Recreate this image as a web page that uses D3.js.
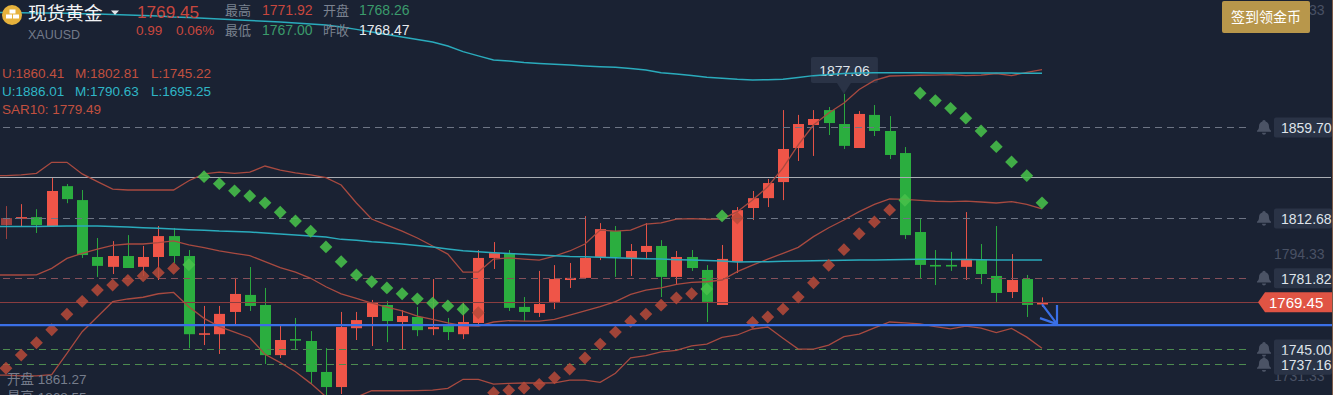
<!DOCTYPE html>
<html><head><meta charset="utf-8">
<script src="https://cdn.jsdelivr.net/npm/d3@7/dist/d3.min.js"></script>
<style>
html,body{margin:0;padding:0;background:#1a2233;overflow:hidden}
svg{display:block}
text{font-family:"Liberation Sans","Noto Sans CJK SC",sans-serif}
</style></head><body><svg id="c" width="1333" height="395"></svg>
<script>
const opens=[1809.3,1812.9,1813.4,1808.8,1829.4,1822.2,1792.8,1787.7,1793.3,1787.7,1792.8,1803.6,1793.3,1752.9,1752.9,1764.4,1773.2,1768.0,1742.1,1750.4,1749.4,1733.4,1725.6,1756.0,1761.8,1768.0,1759.2,1761.8,1755.5,1757.1,1752.9,1758.7,1792.3,1794.8,1767.0,1763.9,1769.6,1780.9,1782.0,1792.8,1806.2,1792.3,1795.4,1798.5,1782.5,1792.8,1786.1,1768.0,1790.2,1818.1,1823.2,1831.5,1849.1,1861.0,1868.7,1861.5,1849.1,1866.2,1857.9,1846.5,1805.7,1788.7,1788.7,1787.7,1791.2,1783.0,1774.7,1781.4,1768.26];
const closes=[1812.9,1813.4,1809.3,1826.9,1822.7,1793.8,1788.2,1793.3,1787.1,1792.8,1803.6,1793.3,1752.9,1753.4,1763.4,1773.7,1767.5,1742.1,1749.9,1749.9,1733.4,1725.6,1756.6,1760.2,1769.0,1759.7,1762.3,1755.0,1756.6,1754.0,1759.2,1792.3,1794.8,1766.5,1764.4,1768.5,1781.4,1782.0,1792.3,1807.2,1792.8,1795.9,1798.5,1782.5,1792.8,1787.1,1769.6,1791.8,1817.0,1823.2,1831.0,1848.6,1861.5,1864.1,1862.0,1850.2,1866.7,1857.9,1845.5,1804.1,1788.7,1788.2,1788.2,1791.8,1784.0,1774.2,1780.9,1768.0,1769.45];
const highs=[1819.1,1820.1,1817.5,1833.6,1830.5,1827.4,1802.6,1801.0,1804.1,1798.5,1808.8,1807.8,1796.4,1767.5,1767.5,1782.0,1787.6,1776.8,1757.6,1761.3,1754.5,1745.7,1764.4,1764.4,1770.6,1770.1,1765.4,1767.0,1781.4,1761.3,1769.6,1796.4,1800.5,1796.4,1772.1,1785.6,1788.6,1789.7,1813.9,1810.3,1808.8,1799.5,1810.3,1801.5,1795.9,1796.4,1788.6,1799.0,1818.6,1826.9,1833.1,1868.7,1866.2,1868.7,1870.3,1877.06,1868.2,1871.3,1865.6,1849.6,1812.4,1796.4,1795.4,1816.0,1799.5,1808.8,1794.3,1783.5,1771.92];
const lows=[1802.1,1808.3,1805.2,1808.3,1820.6,1792.3,1782.5,1784.0,1787.1,1783.0,1780.9,1789.7,1745.7,1747.3,1742.7,1758.1,1764.9,1737.5,1740.6,1744.7,1727.2,1721.5,1722.0,1749.9,1746.8,1748.8,1745.2,1751.9,1752.4,1749.9,1750.4,1757.6,1786.6,1764.9,1759.7,1761.8,1765.9,1776.8,1781.4,1791.2,1782.5,1783.0,1791.8,1772.1,1778.8,1785.6,1759.2,1768.0,1784.5,1811.9,1818.6,1822.2,1842.4,1845.0,1855.8,1848.6,1849.1,1855.3,1843.4,1802.1,1781.4,1778.3,1785.6,1780.9,1778.8,1769.6,1771.6,1761.8,1767.00];
const redUpper=[1834.8,1835.2,1836.0,1841.7,1841.7,1835.7,1831.7,1827.9,1827.4,1827.4,1827.4,1827.4,1832.2,1835.7,1836.6,1836.0,1836.6,1839.8,1837.7,1836.3,1835.2,1833.8,1830.0,1820.7,1812.4,1809.3,1806.2,1802.6,1798.5,1794.3,1785.0,1785.0,1791.7,1792.3,1791.7,1791.2,1793.3,1795.9,1799.5,1806.7,1806.2,1806.7,1809.8,1810.4,1812.4,1812.6,1812.3,1812.4,1816.2,1822.2,1829.1,1838.8,1850.7,1861.0,1867.2,1872.4,1879.3,1884.0,1886.3,1886.5,1886.7,1886.8,1887.0,1886.5,1886.8,1887.6,1886.5,1888.2,1889.6];
const redMid=[1783.5,1783.5,1783.6,1786.9,1792.1,1794.7,1796.8,1798.8,1799.5,1799.5,1800.2,1801.1,1799.1,1797.6,1795.9,1794.7,1793.5,1790.4,1787.3,1785.0,1781.8,1777.4,1773.7,1771.4,1769.0,1766.9,1764.9,1762.3,1760.6,1758.7,1757.3,1757.1,1759.2,1759.9,1759.7,1759.7,1760.6,1762.7,1764.9,1767.1,1769.7,1773.5,1775.7,1776.8,1778.7,1779.7,1780.0,1780.9,1785.2,1788.6,1791.7,1794.7,1797.8,1803.3,1807.9,1811.9,1816.2,1820.0,1822.8,1822.6,1822.1,1821.6,1821.4,1821.7,1821.2,1820.7,1821.4,1820.0,1817.6];
const redLower=[1731.8,1731.4,1731.4,1732.0,1743.0,1754.2,1761.9,1769.7,1771.1,1772.0,1773.8,1774.5,1767.1,1761.1,1756.8,1754.0,1751.1,1742.5,1738.2,1733.5,1727.5,1720.6,1716.3,1720.4,1723.7,1723.7,1723.7,1723.8,1724.0,1724.9,1729.6,1729.6,1727.1,1727.5,1727.7,1727.7,1727.8,1729.2,1729.2,1728.0,1732.7,1740.7,1741.8,1743.8,1744.6,1746.9,1747.8,1751.3,1752.5,1755.6,1756.6,1750.8,1745.2,1745.2,1747.3,1751.6,1753.0,1756.2,1759.2,1758.8,1758.2,1756.8,1755.7,1757.1,1756.1,1753.7,1755.9,1751.4,1745.6];
const tealUpper=[1919.1,1919.0,1918.9,1918.8,1918.7,1918.5,1918.4,1918.1,1917.8,1917.6,1917.3,1916.8,1916.5,1916.1,1915.8,1915.4,1915.0,1914.6,1914.2,1913.7,1913.2,1912.7,1911.6,1910.4,1909.1,1907.8,1906.5,1905.2,1903.9,1901.8,1898.9,1896.7,1894.6,1894.1,1893.3,1892.8,1892.4,1892.0,1891.5,1891.1,1890.8,1890.2,1889.4,1888.0,1887.4,1886.6,1885.7,1885.1,1884.6,1884.3,1884.4,1884.6,1885.5,1886.5,1887.1,1887.6,1887.9,1888.0,1888.0,1888.0,1888.0,1887.9,1887.9,1887.9,1887.9,1887.8,1887.8,1887.7,1887.7];
const tealMid=[1808.6,1808.6,1808.6,1808.7,1808.8,1808.8,1808.8,1808.5,1808.3,1807.9,1807.6,1807.3,1806.9,1806.6,1806.2,1806.0,1805.7,1805.2,1804.7,1804.2,1803.6,1803.1,1801.9,1801.4,1800.7,1800.2,1799.5,1798.7,1797.9,1796.9,1796.0,1795.5,1795.0,1794.6,1794.2,1793.8,1793.5,1793.1,1792.9,1792.6,1792.4,1792.1,1791.9,1791.7,1791.4,1791.2,1791.0,1790.7,1790.2,1790.3,1790.4,1790.6,1790.7,1790.9,1791.0,1791.1,1791.2,1791.3,1791.4,1791.5,1791.6,1791.6,1791.5,1791.5,1791.4,1791.3,1791.2,1791.2,1791.2];
const sar=[1735.3,1742.1,1748.5,1755.2,1763.2,1769.9,1775.7,1778.3,1780.7,1783.0,1784.7,1786.9,1788.8,1834.3,1830.7,1827.0,1824.3,1820.8,1815.9,1811.4,1806.1,1798.0,1790.4,1783.5,1780.0,1776.8,1773.8,1771.2,1769.0,1767.5,1765.8,1764.0,1722.7,1723.9,1725.1,1727.0,1730.4,1734.9,1740.6,1747.8,1754.0,1759.6,1763.3,1767.9,1771.6,1773.8,1776.2,1814.0,1812.9,1759.0,1761.8,1765.9,1772.1,1779.5,1788.5,1796.6,1804.8,1810.9,1817.1,1822.1,1877.4,1873.6,1869.6,1864.5,1857.9,1849.8,1841.9,1834.8,1820.8];
const axisTicks=[1920.33,1857.33,1794.33,1731.33];
const alertValues=[1859.70,1812.68,1781.82,1745.00,1737.16];
const greyLineValue=1834.1, blueLineValue=1757.6, lastPrice=1769.45, peakPrice=1877.06;
const headerRows=[["最高","1771.92","#c8473e","开盘","1768.26","#3b9b6c"],["最低","1767.00","#3b9b6c","昨收","1768.47","#e8ebf0"]];
const bollRed=["U:1860.41","M:1802.81","L:1745.22"], bollTeal=["U:1886.01","M:1790.63","L:1695.25"];

const RED="#ef5548",GREEN="#2bae3f",BG="#1a2233",TAG="#2a3346",W=1333,H=395;
const svg=d3.select("#c");
svg.append("rect").attr("width",W).attr("height",H).attr("fill",BG);
const n=closes.length, idx=d3.range(n);
const x=d3.scalePoint().domain(idx).range([6,1042]);
const y=d3.scaleLinear().domain([1859.7,1745]).range([127.5,349.5]);
const crisp=v=>Math.round(y(v)-.5)+.5;

// price axis
const ax=svg.append("g").attr("transform","translate(1274,0)")
  .call(d3.axisRight(y).tickValues(axisTicks).tickSize(0).tickPadding(0).tickFormat(d3.format(".2f")));
ax.select(".domain").remove();
ax.selectAll("text").attr("fill","#495164").attr("font-size",14).attr("font-family",'"Liberation Sans"');

// tooltip box (below the lines)
const tx=x(55);
const tip=svg.append("g");
tip.append("rect").attr("x",tx-33).attr("y",57).attr("width",67).attr("height",26).attr("rx",2).attr("fill",TAG);
tip.append("path").attr("d",`M${tx-7},83L${tx},${y(peakPrice)}L${tx+7},83Z`).attr("fill",TAG);
tip.append("text").attr("x",tx+.5).attr("y",75.5).attr("text-anchor","middle").attr("font-size",14).attr("fill","#dfe3ea").text(peakPrice.toFixed(2));

// candles
const col=i=>closes[i]>=opens[i]?RED:GREEN;
const cg=svg.append("g");
cg.selectAll("line").data(idx).join("line")
  .attr("x1",i=>Math.round(x(i))+.5).attr("x2",i=>Math.round(x(i))+.5)
  .attr("y1",i=>y(highs[i])).attr("y2",i=>y(lows[i]))
  .attr("stroke",col).attr("stroke-opacity",i=>i===0?.6:.95);
cg.selectAll("rect").data(idx).join("rect")
  .attr("x",i=>Math.round(x(i))-5).attr("width",11)
  .attr("y",i=>y(Math.max(opens[i],closes[i])))
  .attr("height",i=>Math.max(1.6,Math.abs(y(opens[i])-y(closes[i]))))
  .attr("fill",col).attr("opacity",i=>i===0?.6:1);

// alert dashed lines
const alertColors=["#6d7484","#6d7484","#85505a","#4d8b50","#4d8b50"];
svg.append("g").selectAll("line").data(alertValues).join("line")
  .attr("x1",3).attr("x2",1250).attr("y1",crisp).attr("y2",crisp)
  .attr("stroke",(d,i)=>alertColors[i]).attr("stroke-dasharray","7,5");

// solid lines
svg.append("line").attr("x1",0).attr("x2",1331).attr("y1",crisp(greyLineValue)).attr("y2",crisp(greyLineValue)).attr("stroke","#a9adb3");
svg.append("line").attr("x1",0).attr("x2",1262).attr("y1",crisp(lastPrice)).attr("y2",crisp(lastPrice)).attr("stroke","#8a3d40");

// bands: the first value is carried to the plot's left edge
const line=d3.line().x((d,i)=>i===0?0:x(i-1)).y(d=>y(d));
const bandPath=s=>line([s[0],...s]);
[redUpper,redMid,redLower].forEach(s=>svg.append("path").attr("d",bandPath(s)).attr("fill","none").attr("stroke","#a84a40").attr("stroke-width",1.3));
[tealUpper,tealMid].forEach(s=>svg.append("path").attr("d",bandPath(s)).attr("fill","none").attr("stroke","#2aabbc").attr("stroke-width",1.5));

// SAR diamonds
const sarAbove=i=>sar[i]>closes[i];
svg.append("g").selectAll("path").data(idx).join("path")
  .attr("transform",i=>`translate(${x(i)},${y(sar[i])})`)
  .attr("d","M0,-6.4L6.4,0L0,6.4L-6.4,0Z")
  .attr("fill",i=>sarAbove(i)?"#47c04a":"#b84a3a").attr("opacity",i=>sarAbove(i)?.88:.85);

// blue line and arrow
svg.append("line").attr("x1",0).attr("x2",W).attr("y1",y(blueLineValue)).attr("y2",y(blueLineValue)).attr("stroke","#3a6fe6").attr("stroke-width",2.4);
const ex=x(n-1), ey=y(blueLineValue)-1;
svg.append("path").attr("d",`M${ex},${y(lastPrice)+2}L${ex+15},${ey}M${ex-2},${ey-6}L${ex+15},${ey}L${ex+15},${ey-19}`)
  .attr("fill","none").attr("stroke","#3a6fe6").attr("stroke-width",2.2);

// alert tags + bells
const bell="M0,-7.5c1.2,0,1.6,.8,1.6,1.4c2.4,.7,3.4,2.6,3.4,5.1c0,2.4,1,3.3,2,4.2v1H-7v-1c1-.9,2-1.8,2-4.2c0-2.5,1-4.4,3.4-5.1c0-.6,.4-1.4,1.6-1.4ZM-2,5.3h4c0,1.2-.9,1.9-2,1.9s-2-.7-2-1.9Z";
const tags=svg.append("g").selectAll("g").data(alertValues).join("g").attr("transform",d=>`translate(0,${y(d)})`);
tags.append("rect").attr("x",1274).attr("y",-10).attr("width",58).attr("height",20).attr("rx",2).attr("fill",TAG);
tags.append("path").attr("d",bell).attr("transform","translate(1264,0)").attr("fill","#4b5365");
tags.append("text").attr("x",1281).attr("y",5.5).attr("font-size",14).attr("fill","#dfe3ea").text(d=>d.toFixed(2));

// last price tag
const lp=y(lastPrice);
svg.append("path").attr("d",`M1258,${lp}L1265,${lp-10}H1332V${lp+10}H1265Z`).attr("fill","#e05444");
svg.append("text").attr("x",1269).attr("y",lp+5.5).attr("font-size",15).attr("fill","#fff").text(lastPrice.toFixed(2));

// right edge
svg.append("line").attr("x1",1332.5).attr("x2",1332.5).attr("y1",0).attr("y2",H).attr("stroke","#7a5a48");

// gold button
svg.append("rect").attr("x",1222).attr("y",1).attr("width",88).attr("height",32).attr("rx",2).attr("fill","#b8974b");
svg.append("text").attr("x",1266).attr("y",22).attr("text-anchor","middle").attr("font-size",14).attr("fill","#fff").text("签到领金币");

// header
svg.append("circle").attr("cx",12).attr("cy",15).attr("r",10).attr("fill","#e6b23c");
[[9.5,9.5],[6,14.5],[13,14.5]].forEach(p=>svg.append("rect").attr("x",p[0]).attr("y",p[1]).attr("width",6).attr("height",4).attr("fill","#fff"));
const T=(s,xp,yp,size,fill,anchor)=>svg.append("text").attr("x",xp).attr("y",yp).attr("font-size",size).attr("fill",fill).attr("text-anchor",anchor||"start").text(s);
T("现货黄金",28,20,18.7,"#f2f3f5");
svg.append("path").attr("d","M111,10.5H119L115,15Z").attr("fill","#e4e6ea");
T("XAUUSD",28,39,12.5,"#737a8a");
T(lastPrice.toFixed(2),137,18,17.2,"#c8473e");
T("0.99",136,35,13.5,"#c8473e");
T("0.06%",176,35,13.5,"#c8473e");
headerRows.forEach((r,k)=>{
  const yb=15+k*20;
  T(r[0],225,yb,13,"#7b8290"); T(r[1],262,yb,14,r[2]);
  T(r[3],323,yb,13,"#7b8290"); T(r[4],359,yb,14,r[5]);
});
[2,75,151].forEach((xp,k)=>{T(bollRed[k],xp,78,13.5,"#c2503f");T(bollTeal[k],xp,96,13.5,"#2fb6c6");});
T("SAR10: 1779.49",2,114,13.5,"#c2503f");
T("开盘 1861.27",7,384,13.5,"#767d8c");
T("最高 1868.55",7,402,13.5,"#767d8c");
</script></body></html>
